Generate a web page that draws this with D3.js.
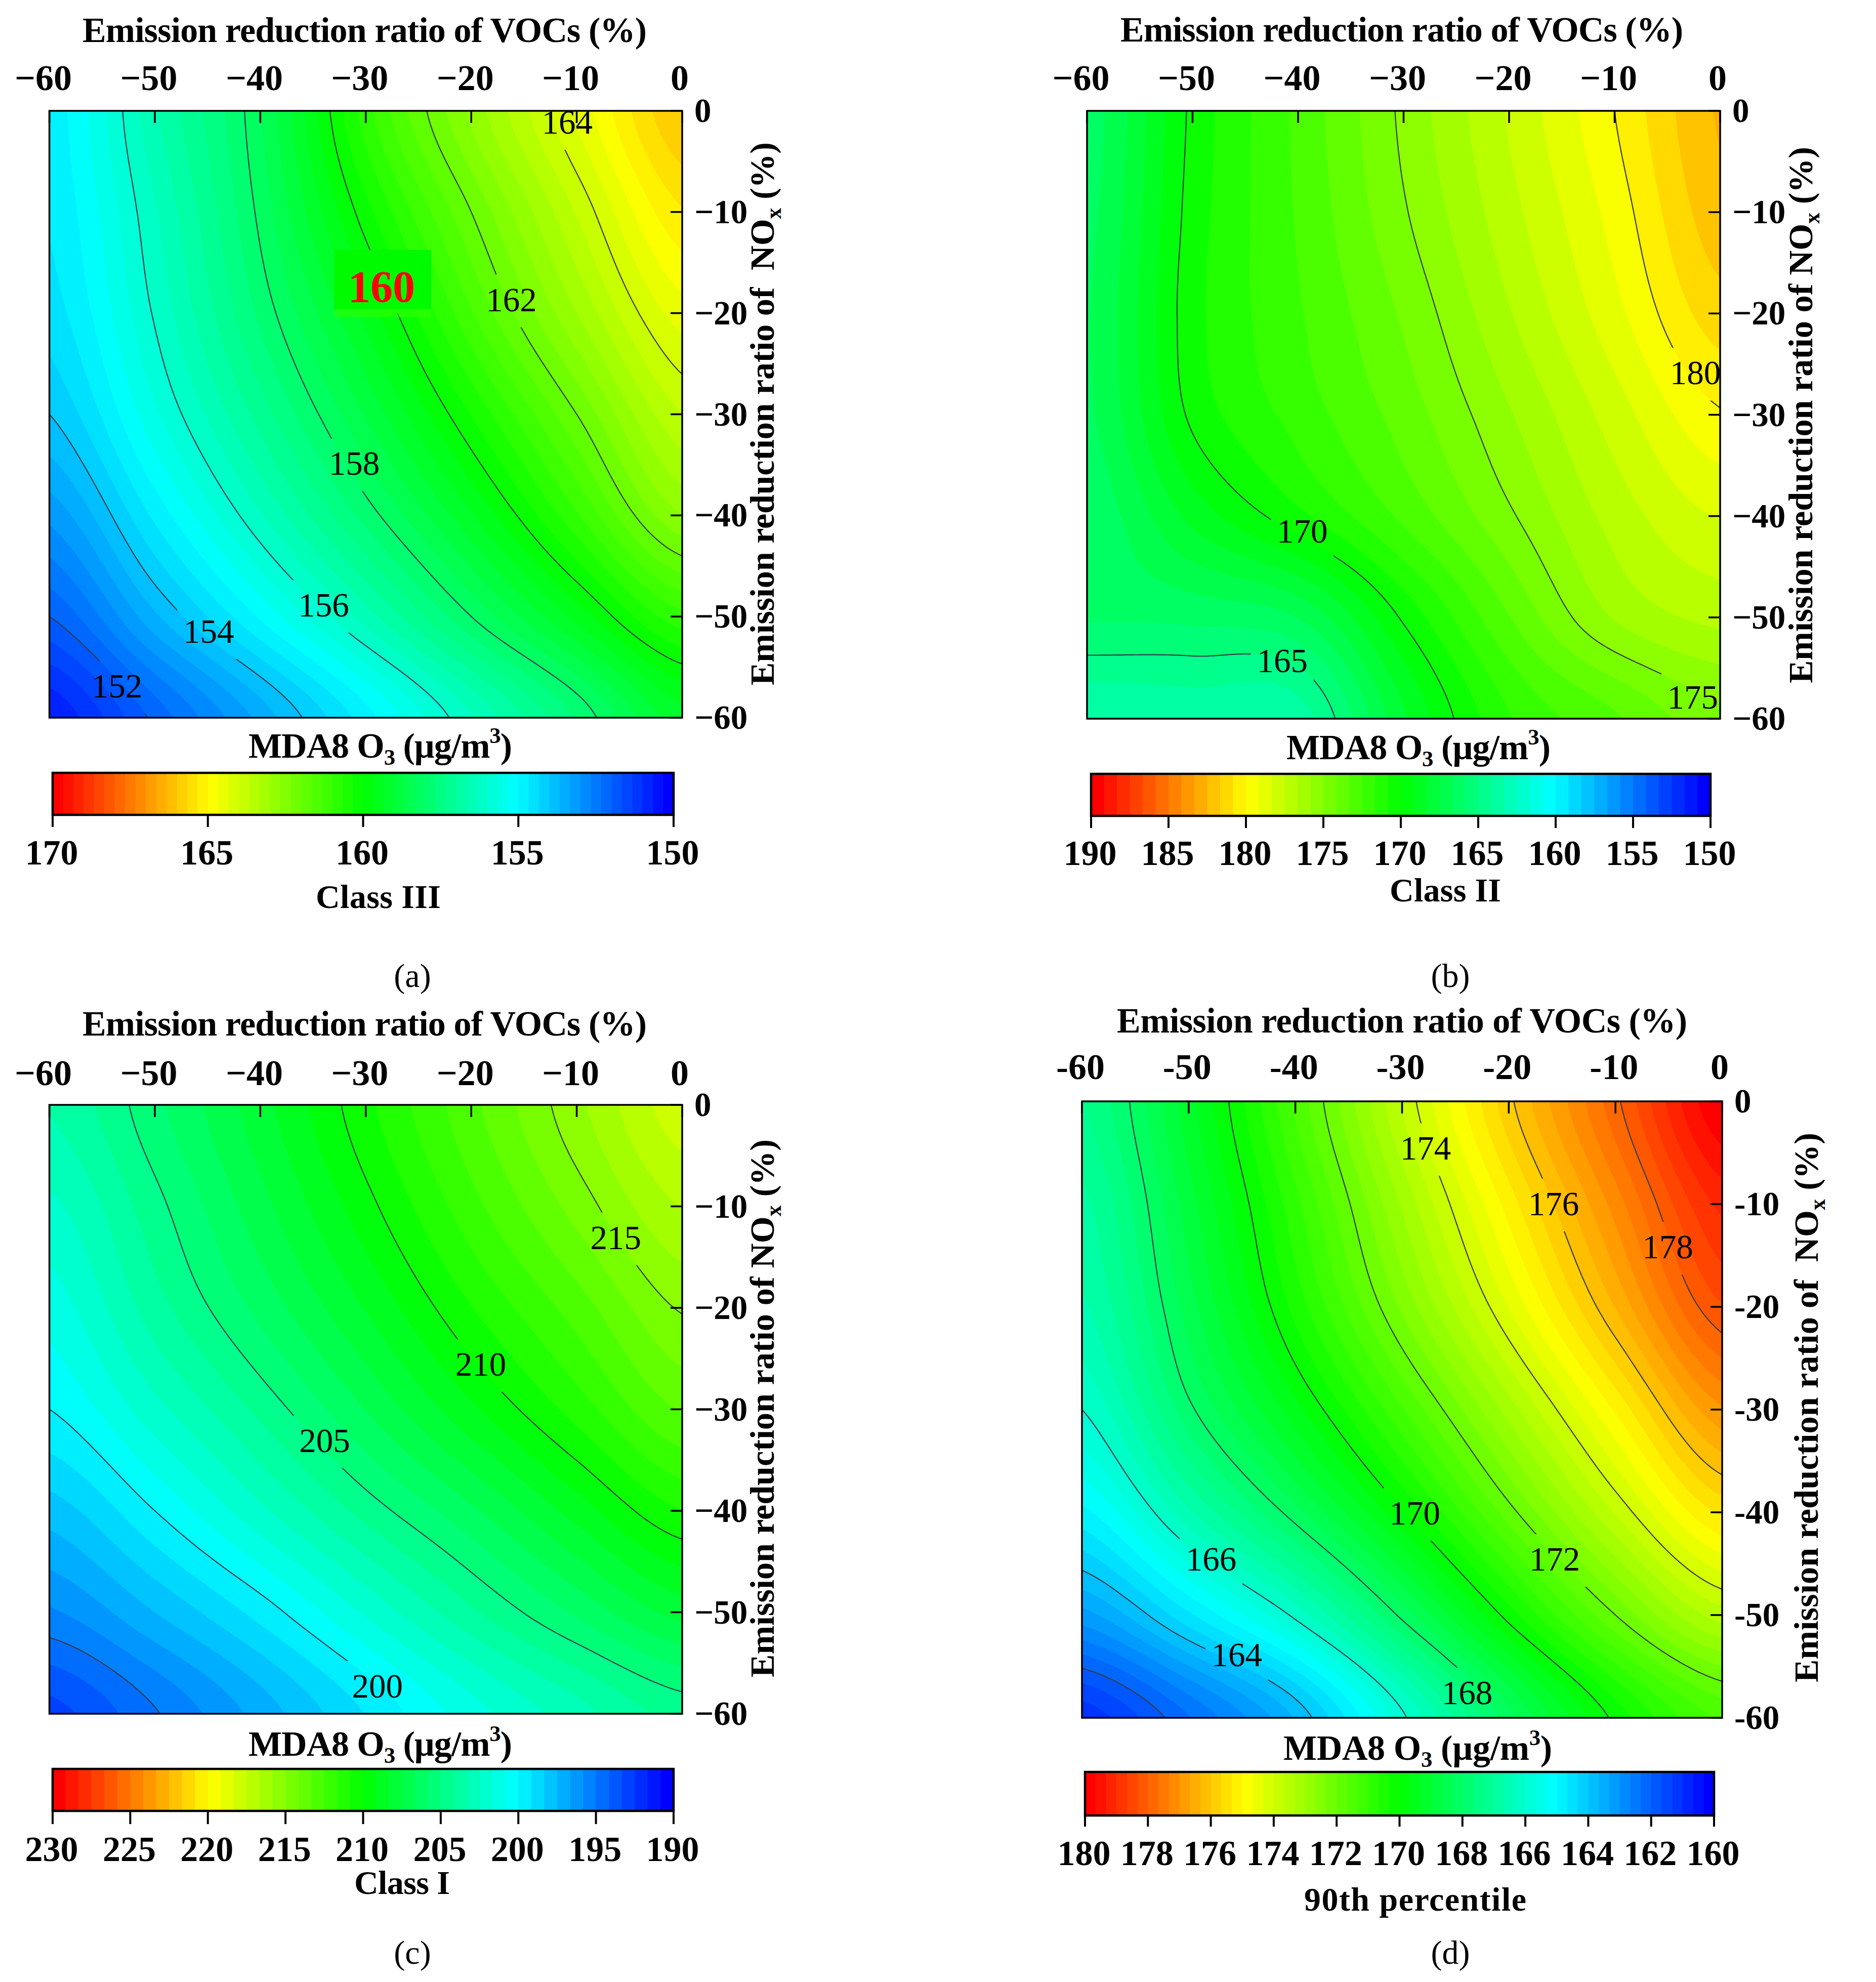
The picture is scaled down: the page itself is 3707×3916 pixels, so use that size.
<!DOCTYPE html>
<html>
<head>
<meta charset="utf-8">
<script src="https://cdn.jsdelivr.net/npm/d3@7"></script>
<style>
html,body{margin:0;padding:0;background:#fff}
svg{display:block}
text{font-family:"Liberation Serif","Times New Roman",serif;white-space:pre}
</style>
</head>
<body>
<script>
// ---------- data ----------
const vocReduction = [-60,-50,-40,-30,-20,-10,0];
const noxReduction = [0,-10,-20,-30,-40,-50,-60];

// rows: NOx 0 → -60, columns: VOCs -60 → 0
const classIII = [
 [154.8,156.6,158.3,160.85,162.75,164.4,166.0],
 [154.7,156.3,158.1,160.2,162.0,163.7,165.3],
 [154.5,156.05,157.75,159.45,161.3,163.0,164.5],
 [154.0,155.6,157.15,158.7,160.35,162.0,163.65],
 [153.1,154.75,156.3,157.8,159.3,160.95,162.65],
 [152.0,153.6,155.05,156.5,158.0,159.45,160.9],
 [150.7,152.1,153.45,154.85,156.3,157.7,159.2]];
const classII = [
 [166.2,170.2,172.7,175.2,177.6,180.0,182.6],
 [166.4,170.35,172.6,174.9,177.2,179.5,182.2],
 [166.6,170.5,172.4,174.3,176.6,178.9,181.3],
 [166.5,170.2,172.0,173.7,175.75,177.9,179.9],
 [166.0,168.6,170.6,172.7,174.85,177.0,178.4],
 [165.9,166.05,166.7,170.15,173.3,175.9,176.9],
 [163.3,163.6,163.7,168.2,171.6,173.2,174.8]];
const classI = [
 [203.4,205.6,208.0,210.6,213.1,215.6,218.0],
 [202.3,204.7,207.2,209.7,212.2,214.5,216.7],
 [201.2,203.8,206.1,208.4,210.8,212.9,215.1],
 [200.0,202.2,204.4,206.7,209.0,211.2,213.4],
 [197.9,200.0,202.3,204.5,206.5,208.7,210.8],
 [195.7,197.5,199.5,201.8,204.0,206.0,207.8],
 [193.0,194.9,197.0,199.2,201.3,203.0,204.5]];
const percentile90 = [
 [167.3,169.2,171.4,173.7,175.9,177.9,180.0],
 [166.9,168.85,170.9,173.05,175.15,177.15,179.1],
 [166.6,168.5,170.45,172.4,174.35,176.35,178.3],
 [166.0,167.9,169.55,171.3,173.15,175.05,176.95],
 [164.9,166.6,168.2,169.95,171.85,173.7,175.4],
 [163.2,164.6,166.1,168.1,170.15,172.0,173.5],
 [161.1,162.3,163.7,165.9,168.2,170.1,171.4]];

const levelsA = [152,154,156,158,160,162,164];
const levelsB = [165,170,175,180];
const levelsC = [195,200,205,210,215];
const levelsD = [162,164,166,168,170,172,174,176,178];

const barTicksA = [170,165,160,155,150];
const barTicksB = [190,185,180,175,170,165,160,155,150];
const barTicksC = [230,225,220,215,210,205,200,195,190];
const barTicksD = [180,178,176,174,172,170,168,166,164,162,160];

// contour labels: [value, VOCs, NOx]
const labelsA = [[164,-10.9,-1.15],[160,-28.5,-17.3],[162,-16.2,-18.7],[158,-31.1,-34.9],[156,-34,-48.9],[154,-44.9,-51.5],[152,-53.6,-56.9]];
const labelsB = [[180,-2.35,-25.9],[170,-39.6,-41.5],[165,-41.5,-54.3],[175,-2.6,-57.9]];
const labelsC = [[215,-6.3,-13.1],[210,-19.1,-25.6],[205,-33.9,-33.1],[200,-28.9,-57.3]];
const labelsD = [[174,-27.8,-4.6],[176,-15.8,-10],[178,-5.1,-14.2],[170,-28.8,-40.1],[172,-15.7,-44.6],[166,-47.9,-44.6],[164,-45.5,-53.9],[168,-23.9,-57.6]];

const titleVOC = "Emission reduction ratio of VOCs (%)";

// ---------- layout ----------
const panels = [
 {id:"a",grid:classIII,levels:levelsA,labels:labelsA,barTicks:barTicksA,bands:60,
  L:97.6,R:1348,T:219,B:1418,titleX:[163,1278],titleY:83,tickY:178,minus:"−",tickShift:-12,
  yTitle:[1529,1354,281],yGap:"  ",
  bar:[104,1331,1527,1610,1634],barLabelY:1708,barTitle:[491,1012,1497],
  cls:"Class III",clsBox:[624,871,1794],tag:"(a)",tagX:815,tagY:1950},
 {id:"b",grid:classII,levels:levelsB,labels:labelsB,barTicks:barTicksB,bands:48,
  L:2148,R:3399,T:219,B:1420,titleX:[2214,3326],titleY:82,tickY:178,minus:"−",tickShift:-12,
  yTitle:[3581,1350,290],yGap:" ",
  bar:[2156,3380,1529,1612,1636],barLabelY:1709,barTitle:[2542,3064,1500],
  cls:"Class II",clsBox:[2746,2966,1781],tag:"(b)",tagX:2866,tagY:1950},
 {id:"c",grid:classI,levels:levelsC,labels:labelsC,barTicks:barTicksC,bands:48,
  L:97.6,R:1348,T:2183,B:3386,titleX:[163,1278],titleY:2046,tickY:2144,minus:"−",tickShift:-12,
  yTitle:[1529,3314,2251],yGap:" ",
  bar:[104,1331,3495,3578,3604],barLabelY:3677,barTitle:[491,1012,3469],
  cls:"Class I",clsBox:[700,889,3742],tag:"(c)",tagX:815,tagY:3880},
 {id:"d",grid:percentile90,levels:levelsD,labels:labelsD,barTicks:barTicksD,bands:60,
  L:2138,R:3403,T:2176,B:3394,titleX:[2207,3334],titleY:2040,tickY:2132,minus:"-",tickShift:-3,
  yTitle:[3592,3324,2238],yGap:"  ",
  bar:[2144,3387,3501,3587,3609],barLabelY:3685,barTitle:[2536,3067,3477],
  cls:"90th percentile",clsBox:[2577,3016,3775],tag:"(d)",tagX:2866,tagY:3880}
];

const W = 3707, H = 3916, UP = 30;
const svg = d3.select("body").append("svg").attr("width",W).attr("height",H).attr("viewBox",`0 0 ${W} ${H}`);
svg.append("rect").attr("width",W).attr("height",H).attr("fill","#fff");
const defs = svg.append("defs");

const ramp = d3.scaleLinear().domain([0,.25,.5,.75,1])
  .range(["#ff0000","#ffff00","#00ff00","#00ffff","#0000ff"]);

// smooth resampling of the gridded field for the contour geometry
function cr(p0,p1,p2,p3,t){
  return 0.5*((2*p1)+(-p0+p2)*t+(2*p0-5*p1+4*p2-p3)*t*t+(-p0+3*p1-3*p2+p3)*t*t*t);
}
function resample(g){
  const m=g.length, n=(m-1)*UP+1, out=new Float64Array(n*n);
  const at=(r,c)=>g[Math.max(0,Math.min(m-1,r))][Math.max(0,Math.min(m-1,c))];
  for(let j=0;j<n;j++){
    const rf=j/UP, r=Math.min(m-2,Math.floor(rf)), tr=rf-r;
    for(let i=0;i<n;i++){
      const cf=i/UP, c=Math.min(m-2,Math.floor(cf)), tc=cf-c;
      const row=[-1,0,1,2].map(d=>cr(at(r+d,c-1),at(r+d,c),at(r+d,c+1),at(r+d,c+2),tc));
      out[i+j*n]=cr(row[0],row[1],row[2],row[3],tr);
    }
  }
  return {values:out,n};
}

// text with optional sub/superscript parts: [string, "sub"|"sup"|undefined]
function richText(g,parts,size,opts){
  const t=g.append("text").attr("font-size",size)
    .attr("font-weight",opts.weight||"bold").attr("fill","#000");
  if(opts.transform) t.attr("transform",opts.transform); else t.attr("x",opts.x).attr("y",opts.y);
  if(opts.anchor) t.attr("text-anchor",opts.anchor);
  if(opts.len) t.attr("textLength",opts.len).attr("lengthAdjust","spacing");
  let prev=0;
  parts.forEach(([s,kind])=>{
    const shift=kind==="sub"?size*.2:kind==="sup"?-size*.42:0;
    t.append("tspan").attr("dy",shift-prev).attr("font-size",kind?size*.64:size).text(s);
    prev=shift;
  });
  return t;
}

panels.forEach(p=>{
  const g=svg.append("g").attr("id","panel-"+p.id);
  const x=d3.scaleLinear().domain([-60,0]).range([p.L,p.R]);
  const y=d3.scaleLinear().domain([0,-60]).range([p.T,p.B]);
  const vmax=p.barTicks[0], vmin=p.barTicks[p.barTicks.length-1];
  const bandColor=i=>ramp(i/(p.bands-1));
  const bandW=(vmax-vmin)/p.bands;
  const thresholds=d3.range(1,p.bands+1).map(i=>vmin+i*bandW-bandW); // lower edges

  const {values,n}=resample(p.grid);
  const sx=d3.scaleLinear().domain([.5,n-.5]).range([p.L,p.R]);
  const sy=d3.scaleLinear().domain([.5,n-.5]).range([p.T,p.B]);
  const path=d3.geoPath(d3.geoTransform({point(a,b){this.stream.point(sx(a),sy(b));}}));

  defs.append("clipPath").attr("id","clip-"+p.id).append("rect")
    .attr("x",p.L).attr("y",p.T).attr("width",p.R-p.L).attr("height",p.B-p.T);

  // filled bands
  const fill=g.append("g").attr("clip-path",`url(#clip-${p.id})`);
  const cs=d3.contours().size([n,n]).smooth(true);
  fill.selectAll("path").data(thresholds.map((t,i)=>({t,i})))
    .join("path")
    .attr("d",d=>path(cs.contour(values,d.t)))
    .attr("fill",d=>bandColor(p.bands-1-d.i));

  // gaps in the contour lines behind labels
  const m=defs.append("mask").attr("id","gap-"+p.id).attr("maskUnits","userSpaceOnUse")
    .attr("x",p.L).attr("y",p.T).attr("width",p.R-p.L).attr("height",p.B-p.T);
  m.append("rect").attr("x",p.L).attr("y",p.T).attr("width",p.R-p.L).attr("height",p.B-p.T).attr("fill","#fff");
  m.selectAll("rect.g").data(p.labels).join("rect").attr("class","g")
    .attr("x",d=>x(d[1])-62).attr("y",d=>y(d[2])-50).attr("width",124).attr("height",104).attr("fill","#000");

  // contour lines
  const lines=fill.append("g").attr("mask",`url(#gap-${p.id})`);
  lines.selectAll("path").data(p.levels).join("path")
    .attr("d",v=>path(cs.contour(values,v)))
    .attr("fill","none").attr("stroke","#3a3a4a").attr("stroke-width",2.2);

  // frame
  g.append("rect").attr("x",p.L).attr("y",p.T).attr("width",p.R-p.L).attr("height",p.B-p.T)
    .attr("fill","none").attr("stroke","#000").attr("stroke-width",3.5);

  // highlighted 160 box of panel a
  if(p.id==="a"){
    const v=p.labels.find(l=>l[0]===160);
    const cx=x(v[1]), cy=y(v[2]);
    g.append("rect").attr("x",cx-94).attr("y",cy+46).attr("width",192).attr("height",16)
      .attr("fill","#30ff00").attr("opacity",.6);
    g.append("rect").attr("x",cx-94).attr("y",cy-71).attr("width",192).attr("height",117).attr("fill","#00fa00");
  }

  // contour labels
  g.selectAll("text.clabel").data(p.labels).join("text").attr("class","clabel")
    .attr("x",d=>x(d[1])).attr("y",d=>y(d[2])+ (p.id==="a"&&d[0]===160?31:22))
    .attr("text-anchor","middle")
    .attr("font-size",d=>p.id==="a"&&d[0]===160?88:67)
    .attr("font-weight",d=>p.id==="a"&&d[0]===160?"bold":"normal")
    .attr("fill",d=>p.id==="a"&&d[0]===160?"#ff0000":"#000")
    .text(d=>d[0]);

  // axes
  const fmt=v=>v<0?p.minus+Math.abs(v):String(v);
  const top=g.append("g").attr("transform",`translate(0,${p.T})`)
    .call(d3.axisTop(x).tickValues(vocReduction).tickSize(-24).tickPadding(p.T-p.tickY).tickFormat(fmt).offset(0));
  top.select(".domain").remove();
  top.selectAll("line").attr("stroke","#000").attr("stroke-width",3.5);
  top.selectAll("text").attr("font-family","Liberation Serif").attr("font-size",72).attr("font-weight","bold")
    .attr("fill","#000").attr("dx",d=>d<0?p.tickShift:-5).attr("dy",0).attr("y",-(p.T-p.tickY));
  const right=g.append("g").attr("transform",`translate(${p.R},0)`)
    .call(d3.axisRight(y).tickValues(noxReduction).tickSize(-23).tickPadding(24).tickFormat(fmt).offset(0));
  right.select(".domain").remove();
  right.selectAll("line").attr("stroke","#000").attr("stroke-width",3.5);
  right.selectAll("text").attr("font-family","Liberation Serif").attr("font-size",67).attr("font-weight","bold")
    .attr("fill","#000").attr("x",24).attr("dy","0.33em");

  // titles
  richText(g,[[titleVOC]],70,{x:p.titleX[0],y:p.titleY,len:p.titleX[1]-p.titleX[0]});
  richText(g,[["Emission reduction ratio of"+p.yGap+"NO"],["x","sub"],[" (%)"]],68,
    {transform:`translate(${p.yTitle[0]},${p.yTitle[1]}) rotate(-90)`,len:p.yTitle[1]-p.yTitle[2]});

  // colour bar
  const [bl,br,bt,bb,tickEnd]=p.bar;
  const bx=d3.scaleLinear().domain([vmax,vmin]).range([bl,br]);
  g.append("g").selectAll("rect").data(d3.range(p.bands)).join("rect")
    .attr("x",i=>bx(vmax-i*bandW)).attr("y",bt)
    .attr("width",i=>bx(vmax-(i+1)*bandW)-bx(vmax-i*bandW)+.6).attr("height",bb-bt)
    .attr("fill",bandColor);
  g.append("rect").attr("x",bl).attr("y",bt).attr("width",br-bl).attr("height",bb-bt)
    .attr("fill","none").attr("stroke","#000").attr("stroke-width",4.5);
  const barAxis=g.append("g").attr("transform",`translate(0,${bb})`)
    .call(d3.axisBottom(bx).tickValues(p.barTicks).tickSize(tickEnd-bb).tickFormat(d3.format("d")).offset(0));
  barAxis.select(".domain").remove();
  barAxis.selectAll("line").attr("stroke","#000").attr("stroke-width",4);
  barAxis.selectAll("text").attr("font-family","Liberation Serif").attr("font-size",70).attr("font-weight","bold")
    .attr("fill","#000").attr("dy",0).attr("dx",-2).attr("y",p.barLabelY-bb);

  richText(g,[["MDA8 O"],["3","sub"],[" (µg/m"],["3","sup"],[")"]],70,
    {x:p.barTitle[0],y:p.barTitle[2],len:p.barTitle[1]-p.barTitle[0]});
  richText(g,[[p.cls]],66,{x:p.clsBox[0],y:p.clsBox[2],len:p.clsBox[1]-p.clsBox[0]});
  richText(g,[[p.tag]],66,{x:p.tagX,y:p.tagY,anchor:"middle",weight:"normal"});
});
</script>
</body>
</html>
